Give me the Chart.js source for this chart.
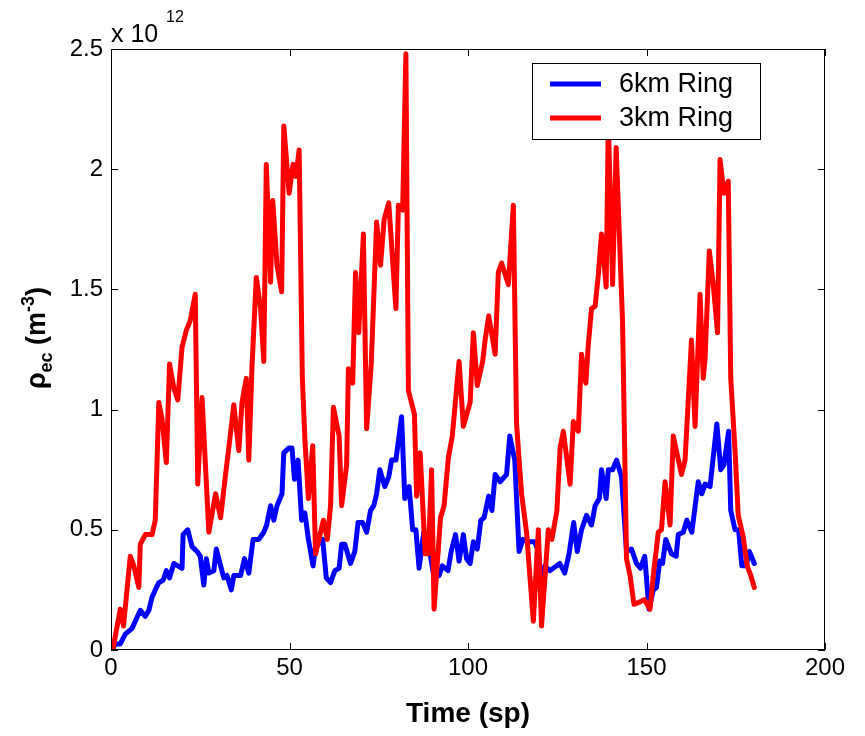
<!DOCTYPE html>
<html lang="en">
<head>
<meta charset="UTF-8">
<title>Electron cloud density</title>
<script src="https://cdn.jsdelivr.net/npm/chart.js"></script>
<style>
  body { margin: 0; background: #fff; }
  #wrap { width: 865px; height: 736px; }
</style>
</head>
<body>
<div id="wrap"><canvas id="myChart"></canvas></div>
<script>
const FONT = "'Liberation Sans', Arial, sans-serif";

const xTicks = [0, 50, 100, 150, 200];
const yTicks = [0, 0.5, 1, 1.5, 2, 2.5];
const seriesNames = ['6km Ring', '3km Ring'];
const seriesColors = ['#0000ff', '#ff0000'];

// density values in units of 1e12 m^-3
const time6km = [0.3, 1.2, 2.6, 4, 5.9, 6.8, 8.2, 9.6, 10.6, 11.5, 12.4, 13.4, 14.6, 15.5, 16.4, 17.6, 18.7, 19.9,
  20.2, 21.5, 22.7, 24.1, 25, 26, 26.7, 27.4, 28.8, 29.5, 30.7, 31.6, 32.5, 33.7, 34.4, 36.3, 37.4, 38.6, 39.8,
  41.4, 42.8, 43.6, 44.7, 45.6, 46.5, 47.9, 48.4, 49.8, 50.7, 51.4, 52.4, 53.4, 54.3, 55.3, 56.6, 57.3, 59.3,
  60.3, 61.5, 62.7, 63.9, 64.6, 65.5, 67.1, 68.3, 69.2, 70.5, 71.6, 72.7, 73.6, 74.4, 75.3, 76.7, 77.8, 78.6,
  79.8, 81.4, 82.3, 83.5, 84.5, 85.4, 86.3, 87.6, 88.6, 89.5, 90.5, 91.9, 92.8, 94.4, 95.3, 96.5, 97.5, 98.7,
  99.6, 100.6, 101.5, 102.6, 103.6, 104.5, 105.8, 106.7, 107.6, 109, 110.8, 111.7, 113.1, 114.3, 115.4, 116.8,
  118.7, 119.7, 120.6, 121.5, 122.9, 125.7, 127.1, 128.3, 129.6, 130.6, 131.8, 133.2, 134.6, 135.6, 136.8,
  137.4, 138.7, 139.3, 140.5, 141.6, 143, 144.4, 145.8, 147.2, 148.3, 149.5, 150.7, 151.9, 152.8, 153.7, 154.5,
  155.4, 157, 158.3, 158.9, 160.3, 161.3, 162.7, 164.5, 165.5, 166.4, 167.8, 169.7, 170.8, 171.7, 173, 173.6,
  174.8, 175.8, 176.7, 177.9, 178.8, 180.2];
const rho6km = [0, 0.025, 0.025, 0.066, 0.09, 0.12, 0.165, 0.14, 0.165, 0.22, 0.25, 0.28, 0.29, 0.33, 0.3, 0.36, 0.35, 0.34,
  0.48, 0.5, 0.43, 0.41, 0.39, 0.27, 0.38, 0.32, 0.33, 0.42, 0.35, 0.3, 0.31, 0.25, 0.31, 0.31, 0.38, 0.32, 0.46,
  0.46, 0.49, 0.52, 0.6, 0.54, 0.6, 0.65, 0.82, 0.84, 0.84, 0.71, 0.79, 0.54, 0.57, 0.46, 0.35, 0.43, 0.46,
  0.3, 0.28, 0.33, 0.34, 0.44, 0.44, 0.36, 0.41, 0.53, 0.53, 0.49, 0.58, 0.6, 0.65, 0.75, 0.68, 0.72, 0.79,
  0.79, 0.97, 0.63, 0.68, 0.5, 0.5, 0.34, 0.49, 0.48, 0.39, 0.3, 0.31, 0.35, 0.33, 0.41, 0.48, 0.37, 0.48,
  0.38, 0.36, 0.45, 0.42, 0.54, 0.55, 0.64, 0.58, 0.73, 0.7, 0.73, 0.89, 0.79, 0.41, 0.46, 0.45,
  0.45, 0.41, 0.25, 0.35, 0.33, 0.36, 0.32, 0.4, 0.53, 0.41, 0.5, 0.56, 0.52, 0.6, 0.63,
  0.75, 0.63, 0.75, 0.75, 0.79, 0.72, 0.41, 0.42, 0.36, 0.34, 0.39, 0.17, 0.25, 0.26, 0.37, 0.36,
  0.46, 0.4, 0.39, 0.48, 0.49, 0.54, 0.49, 0.7, 0.65, 0.69, 0.68, 0.94, 0.75, 0.77, 0.91, 0.58,
  0.5, 0.5, 0.35, 0.35, 0.41, 0.36];

const time3km = [0.5, 2.6, 3.5, 5.4, 6.4, 7.8, 8.2, 9.6, 11.5, 12.4, 13.4, 14.3, 15.5, 16.4, 17.6, 18.7, 19.9,
  21.1, 22.2, 23.6, 24.3, 25.5, 27.4, 29.3, 30.7, 32, 33, 34.4, 35.8, 36.7, 37.9, 38.6, 39.5, 40.7, 41.9,
  42.8, 43.5, 44.7, 45.3, 46.5, 47.8, 48.4, 49.9, 51, 51.8, 52.7, 53.6, 54.3, 55.3, 56.5, 57.3, 59.5, 60.6,
  61.5, 62.3, 63.9, 64.6, 66, 66.5, 67.7, 68.5, 69.4, 70.7, 71.6, 72.9, 74.4, 75.5, 76.5, 77.8, 79.8, 80.5,
  81.7, 82.6, 83.3, 85, 85.6, 86.6, 88, 88.9, 89.8, 90.5, 92.3, 93.3, 94.5, 95.6, 97.5, 98.7, 100.6, 101.5,
  102.6, 104.1, 104.8, 105.8, 107.6, 108.5, 109.4, 111.3, 112.7, 113.6, 115, 116.4, 118.3, 119.7, 120.6, 122.5,
  123.5, 124.9, 125.8, 126.7, 128.6, 129.5, 130.9, 131.8, 133, 133.7, 134.6, 135.6, 136.5, 137.4, 138.7,
  139.3, 140.5, 141.5, 143.3, 144.4, 145.4, 146.5, 148.2, 149.3, 151, 151.9, 153.3, 154.2, 155.2, 156.6,
  157.5, 159.8, 160.8, 162.6, 163.6, 165, 165.9, 166.4, 167.6, 168.7, 169.9, 170.6, 171.7, 172.9, 173.6,
  174.8, 175.7, 177.1, 178.2, 179.2, 180.2];
const rho3km = [0, 0.17, 0.1, 0.39, 0.35, 0.26, 0.44, 0.48, 0.48, 0.54, 1.03, 0.96, 0.78, 1.19, 1.09, 1.04, 1.26,
  1.33, 1.37, 1.48, 0.69, 1.05, 0.49, 0.65, 0.55, 0.72, 0.84, 1.02, 0.83, 1.03, 1.13, 0.79, 1.18, 1.55, 1.42,
  1.2, 2.02, 1.53, 1.87, 1.6, 1.49, 2.18, 1.9, 2.02, 1.97, 2.08, 1.13, 0.88, 0.63, 0.85, 0.4, 0.54, 0.46,
  0.6, 1.01, 0.89, 0.6, 0.77, 1.17, 1.11, 1.57, 1.32, 1.73, 0.92, 1.19, 1.78, 1.6, 1.79, 1.86, 1.42, 1.85,
  1.83, 2.48, 1.08, 0.98, 0.64, 0.82, 0.4, 0.4, 0.75, 0.17, 0.55, 0.6, 0.8, 0.89, 1.2, 0.93, 1.03, 1.32,
  1.1, 1.2, 1.29, 1.39, 1.23, 1.57, 1.61, 1.52, 1.85, 0.94, 0.65, 0.49, 0.12, 0.5, 0.1, 0.5,
  0.46, 0.58, 0.84, 0.91, 0.69, 0.95, 0.91, 1.23, 1.11, 1.27, 1.42, 1.43, 1.56, 1.73, 1.51,
  2.2, 1.52, 2.09, 1.36, 0.38, 0.31, 0.19, 0.2, 0.21, 0.17, 0.31, 0.49, 0.5, 0.7, 0.52,
  0.89, 0.73, 0.79, 1.29, 0.93, 1.48, 1.13, 1.21, 1.66, 1.52, 1.32, 2.04, 1.9, 1.95, 1.13,
  0.83, 0.56, 0.47, 0.35, 0.31, 0.26];

const toPoints = (xs, ys) => xs.map((x, i) => ({ x: x, y: ys[i] }));

// box, inward ticks, legend and the odd labels matlab puts on its plots
const matlabFrame = {
  id: 'matlabFrame',
  afterDatasetsDraw(chart) {
    const { ctx, chartArea: a, scales } = chart;
    ctx.save();
    ctx.strokeStyle = '#000';
    ctx.lineWidth = 1;
    ctx.strokeRect(Math.round(a.left) + 0.5, Math.round(a.top) + 0.5, Math.round(a.width) - 1, Math.round(a.height) - 1);
    ctx.beginPath();
    xTicks.forEach(v => {
      const px = Math.round(scales.x.getPixelForValue(v)) + 0.5;
      ctx.moveTo(px, a.bottom); ctx.lineTo(px, a.bottom - 7);
      ctx.moveTo(px, a.top); ctx.lineTo(px, a.top + 7);
    });
    yTicks.forEach(v => {
      const py = Math.round(scales.y.getPixelForValue(v)) + 0.5;
      ctx.moveTo(a.left, py); ctx.lineTo(a.left + 7, py);
      ctx.moveTo(a.right, py); ctx.lineTo(a.right - 7, py);
    });
    ctx.stroke();

    // legend box
    const lx = 532, ly = 63, lw = 228, lh = 76;
    ctx.fillStyle = '#fff';
    ctx.fillRect(lx, ly, lw, lh);
    ctx.strokeRect(lx + 0.5, ly + 0.5, lw, lh);
    ctx.font = '27px ' + FONT;
    ctx.textBaseline = 'middle';
    ctx.textAlign = 'left';
    [0, 1].forEach(i => {
      const yy = ly + 21 + i * 34;
      ctx.strokeStyle = seriesColors[i];
      ctx.lineWidth = 5;
      ctx.beginPath();
      ctx.moveTo(550, yy); ctx.lineTo(601, yy);
      ctx.stroke();
      ctx.fillStyle = '#000';
      ctx.fillText(seriesNames[i], 619, yy + 1);
    });
    ctx.restore();
  },
  afterDraw(chart) {
    const ctx = chart.ctx;
    ctx.save();
    ctx.fillStyle = '#000';
    ctx.textBaseline = 'alphabetic';
    ctx.textAlign = 'left';
    // exponent label
    ctx.font = '25px ' + FONT;
    ctx.fillText('x 10', 111, 42);
    ctx.font = '16px ' + FONT;
    ctx.fillText('12', 166, 22);

    // y axis title with sub and superscript
    const parts = [['\u03C1', 27, 0], ['ec', 18, 7], [' (m', 27, 0], ['-3', 18, -11], [')', 27, 0]];
    let total = 0;
    parts.forEach(p => { ctx.font = 'bold ' + p[1] + 'px ' + FONT; p.push(ctx.measureText(p[0]).width); total += p[3]; });
    ctx.translate(45, 338);
    ctx.rotate(-Math.PI / 2);
    let x = -total / 2;
    parts.forEach(p => {
      ctx.font = 'bold ' + p[1] + 'px ' + FONT;
      ctx.fillText(p[0], x, p[2]);
      x += p[3];
    });
    ctx.restore();
  }
};

const tickFont = { family: FONT, size: 24 };

new Chart(document.getElementById('myChart'), {
  type: 'line',
  data: {
    datasets: [
      { label: seriesNames[1], data: toPoints(time3km, rho3km), borderColor: seriesColors[1], order: 0 },
      { label: seriesNames[0], data: toPoints(time6km, rho6km), borderColor: seriesColors[0], order: 1 }
    ]
  },
  options: {
    responsive: true,
    maintainAspectRatio: false,
    animation: false,
    layout: { padding: { top: 49, right: 40, left: 0, bottom: 0 } },
    plugins: { legend: { display: false }, tooltip: { enabled: false } },
    elements: {
      point: { radius: 0 },
      line: { borderWidth: 5, tension: 0, borderJoinStyle: 'round', borderCapStyle: 'round' }
    },
    scales: {
      x: {
        type: 'linear', min: 0, max: 200,
        afterBuildTicks: s => { s.ticks = xTicks.map(v => ({ value: v })); },
        afterFit: s => { s.height = 86; },
        grid: { display: false, drawTicks: false },
        border: { display: false },
        ticks: { font: tickFont, color: '#000', padding: 4, maxRotation: 0, callback: v => String(v) },
        title: { display: true, text: 'Time (sp)', color: '#000', font: { family: FONT, size: 28, weight: 'bold' }, padding: { top: 0, bottom: 5 } }
      },
      y: {
        type: 'linear', min: 0, max: 2.5,
        afterBuildTicks: s => { s.ticks = yTicks.map(v => ({ value: v })); },
        afterFit: s => { s.width = 111; },
        grid: { display: false, drawTicks: false },
        border: { display: false },
        ticks: { font: tickFont, color: '#000', padding: 8, callback: v => String(v) }
      }
    }
  },
  plugins: [matlabFrame]
});
</script>
</body>
</html>
